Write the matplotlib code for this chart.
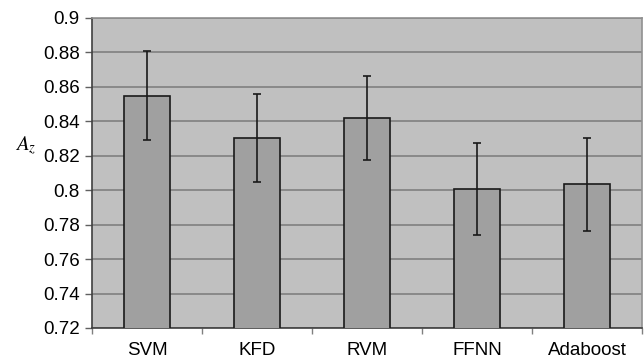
import matplotlib
matplotlib.use("Agg")
import matplotlib.pyplot as plt
import numpy as np

categories = ["SVM", "KFD", "RVM", "FFNN", "Adaboost"]
values = [0.855, 0.8303, 0.842, 0.8009, 0.8034]
errors = [0.0257, 0.0254, 0.0243, 0.0267, 0.0272]
yticks = [0.72, 0.74, 0.76, 0.78, 0.8, 0.82, 0.84, 0.86, 0.88, 0.9]
ytick_labels = ["0.72", "0.74", "0.76", "0.78", "0.8", "0.82", "0.84", "0.86", "0.88", "0.9"]

plt.rcParams['font.family'] = ['Liberation Sans', 'DejaVu Sans']
plt.rcParams['mathtext.fontset'] = 'stix'

fig = plt.figure(figsize=(6.44, 3.6), dpi=100)
ax = fig.add_axes([92/644, 1 - 328/360, 550/644, 310/360])
ax.set_facecolor('#c0c0c0')

x = np.arange(len(categories))
ax.bar(x, values, width=0.41, color='#a0a0a0', edgecolor='#1a1a1a', linewidth=1.2, zorder=3)
ax.errorbar(x, values, yerr=errors, fmt='none', ecolor='#1a1a1a', elinewidth=1.2,
            capsize=3, capthick=1.2, zorder=4)

ax.set_xlim(-0.5, len(categories) - 0.5)
ax.set_ylim(0.72, 0.9)
ax.set_yticks(yticks)
ax.set_yticklabels(ytick_labels, fontsize=13.5)
ax.yaxis.grid(True, color='#808080', linewidth=1.2, zorder=1)
ax.set_axisbelow(True)

ax.set_xticks(x)
ax.set_xticklabels(categories, fontsize=13.5)
ax.tick_params(axis='x', length=0, pad=10)
ax.set_xticks(np.arange(len(categories) + 1) - 0.5, minor=True)
ax.tick_params(axis='x', which='minor', length=4, color='#808080', width=1)
ax.tick_params(axis='y', length=5, color='#606060', width=1, pad=4)

for s in ['left', 'bottom']:
    ax.spines[s].set_color('#404040')
    ax.spines[s].set_linewidth(1.2)
for s in ['top', 'right']:
    ax.spines[s].set_color('#909090')
    ax.spines[s].set_linewidth(1.2)

fig.text(26/644, 1 - 146/360, r'$A_z$', fontsize=15, ha='center', va='center')

fig.savefig('out.png', dpi=100)
